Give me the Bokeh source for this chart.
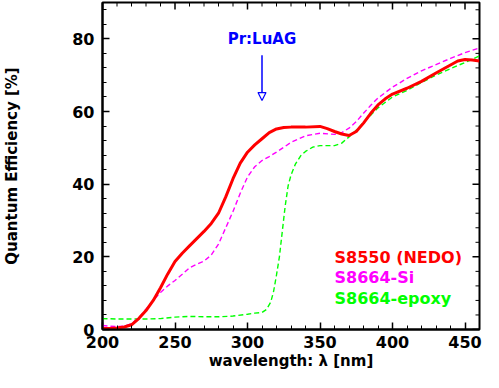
import math
from bokeh.plotting import figure
from bokeh.models import (ColumnDataSource, SingleIntervalTicker, Range1d,
                          Arrow, NormalHead, Label)
from bokeh.core.properties import value
from bokeh.embed import file_html
from bokeh.resources import INLINE

# ---- data ----
red_x = [200, 205, 210, 215, 220, 225, 230, 235, 240, 245, 250, 255, 260, 265, 270, 275,
         280, 285, 290, 295, 300, 305, 310, 315, 320, 325, 330, 340, 350, 355, 360, 365,
         370, 375, 380, 385, 390, 395, 400, 410, 420, 430, 440, 445, 450, 455, 460]
red_y = [0.3, 0.3, 0.4, 0.7, 1.3, 3.0, 5.2, 8.0, 11.5, 15.3, 18.7, 21.0, 23.0, 25.0, 27.0, 29.2,
         32.0, 36.5, 41.5, 45.8, 48.8, 50.8, 52.5, 54.2, 55.2, 55.6, 55.7, 55.7, 55.9, 55.3, 54.5, 53.8,
         53.4, 54.5, 56.8, 59.5, 61.8, 63.5, 64.8, 66.4, 68.3, 70.6, 72.8, 73.9, 74.3, 74.2, 73.9]

mag_x = [200, 205, 210, 215, 220, 225, 230, 235, 240, 245, 250, 255, 260, 265, 270, 275, 280,
         285, 290, 295, 300, 305, 310, 315, 320, 330, 340, 350, 360, 365, 370, 375, 380, 385,
         390, 400, 410, 420, 430, 440, 450, 460]
mag_y = [1.1, 0.9, 0.8, 0.9, 1.6, 3.2, 5.6, 8.0, 10.2, 12.0, 13.5, 15.2, 17.0, 18.0, 18.8, 20.5, 23.5,
         28.0, 32.5, 37.5, 42.0, 44.8, 46.5, 47.6, 48.8, 51.5, 53.3, 54.0, 53.7, 54.2, 55.4, 57.2, 59.5, 61.7,
         63.7, 66.7, 69.1, 71.2, 72.9, 74.6, 76.2, 77.5]

grn_x = [200, 210, 220, 230, 240, 250, 260, 270, 280, 290, 300, 305, 310, 313, 316, 318, 320,
         322, 324, 326, 328, 330, 333, 337, 340, 345, 350, 360, 365, 370, 375, 380, 390, 400,
         410, 420, 430, 440, 450, 460]
grn_y = [3.0, 2.9, 2.9, 2.9, 3.0, 3.4, 3.6, 3.5, 3.5, 3.7, 4.2, 4.5, 4.7, 5.5, 7.5, 10.5, 15.0,
         20.0, 27.0, 34.0, 39.5, 42.5, 45.5, 48.0, 49.0, 50.2, 50.6, 50.6, 51.3, 53.0, 54.8, 57.0, 61.0, 64.0,
         65.8, 68.0, 70.0, 71.8, 73.5, 75.3]

legend_labels = ["S8550 (NEDO)", "S8664-Si", "S8664-epoxy"]
legend_colors = ["#ff0000", "#ff00ff", "#00ff00"]
legend_x = [360, 360, 360]
legend_y = [19.7, 14.4, 8.5]

annot_text = "Pr:LuAG"
annot_x = 310
annot_text_y = 80
arrow_y_start = 75.5
arrow_y_end = 63

x_min, x_max, x_major, x_minor = 200, 460, 50, 10
y_min, y_max, y_major, y_minor = 0, 90, 20, 4

FONT = "DejaVu Sans"

p = figure(width=483, height=372, output_backend="svg", toolbar_location=None,
           x_range=Range1d(x_min, x_max), y_range=Range1d(y_min, y_max),
           x_axis_label="wavelength: λ [nm]", y_axis_label="Quantum Efficiency [%]",
           min_border_left=90, min_border_right=4, min_border_top=2, min_border_bottom=30)
p.grid.visible = False
p.outline_line_color = "black"
p.outline_line_width = 2
p.background_fill_color = "white"
p.border_fill_color = "white"

def style_axis(ax, ticker):
    ax.ticker = ticker
    ax.axis_line_width = 2
    ax.axis_line_color = "black"
    ax.major_tick_in = 7
    ax.major_tick_out = 0
    ax.minor_tick_in = 4
    ax.minor_tick_out = 0
    ax.major_tick_line_width = 1.5
    ax.minor_tick_line_width = 1
    ax.major_tick_line_color = "black"
    ax.minor_tick_line_color = "black"
    ax.major_label_text_font = FONT
    ax.major_label_text_font_size = "16px"
    ax.major_label_text_font_style = "bold"
    ax.major_label_text_color = "black"
    ax.axis_label_text_font = FONT
    ax.axis_label_text_font_size = "15px"
    ax.axis_label_text_font_style = "bold"
    ax.axis_label_text_color = "black"

style_axis(p.xaxis[0], SingleIntervalTicker(interval=x_major, num_minor_ticks=x_major // x_minor))
style_axis(p.yaxis[0], SingleIntervalTicker(interval=y_major, num_minor_ticks=y_major // y_minor))
p.xaxis[0].major_label_standoff = 6
p.xaxis[0].axis_label_standoff = 1
p.yaxis[0].major_label_standoff = 8
p.yaxis[0].axis_label_standoff = 48

# mirrored ticks on top and right edges of the frame
xt_major = list(range(x_min, x_max + 1, x_major))
xt_minor = [v for v in range(x_min, x_max + 1, x_minor) if v % x_major]
yt_major = list(range(y_min, y_max + 1, y_major))
yt_minor = [v for v in range(y_min, y_max + 1, y_minor) if v % y_major]
p.ray(x=xt_major, y=[y_max] * len(xt_major), length=7, length_units="screen",
      angle=-math.pi / 2, line_color="black", line_width=1.5)
p.ray(x=xt_minor, y=[y_max] * len(xt_minor), length=4, length_units="screen",
      angle=-math.pi / 2, line_color="black", line_width=1)
p.ray(x=[x_max] * len(yt_major), y=yt_major, length=7, length_units="screen",
      angle=math.pi, line_color="black", line_width=1.5)
p.ray(x=[x_max] * len(yt_minor), y=yt_minor, length=4, length_units="screen",
      angle=math.pi, line_color="black", line_width=1)

p.line(grn_x, grn_y, line_color="#00ff00", line_width=1.4, line_dash="5 3")
p.line(mag_x, mag_y, line_color="#ff00ff", line_width=1.4, line_dash="5 3")
p.line(red_x, red_y, line_color="#ff0000", line_width=3, line_join="round")

src = ColumnDataSource(dict(x=legend_x, y=legend_y, t=legend_labels, c=legend_colors))
p.text(x="x", y="y", text="t", text_color="c", source=src, text_font=value(FONT),
       text_font_size="16px", text_font_style="bold", text_align="left",
       text_baseline="middle")

p.add_layout(Label(x=annot_x, y=annot_text_y, text=annot_text, text_color="#0000ff",
                   text_font=FONT, text_font_size="15px", text_font_style="bold",
                   text_align="center", text_baseline="middle"))
p.add_layout(Arrow(end=NormalHead(size=8, fill_color="white", line_color="#0000ff",
                                  line_width=1.2),
                   x_start=annot_x, y_start=arrow_y_start, x_end=annot_x, y_end=arrow_y_end,
                   line_color="#0000ff", line_width=1.5))

open("out.html", "w").write(file_html(p, INLINE))
